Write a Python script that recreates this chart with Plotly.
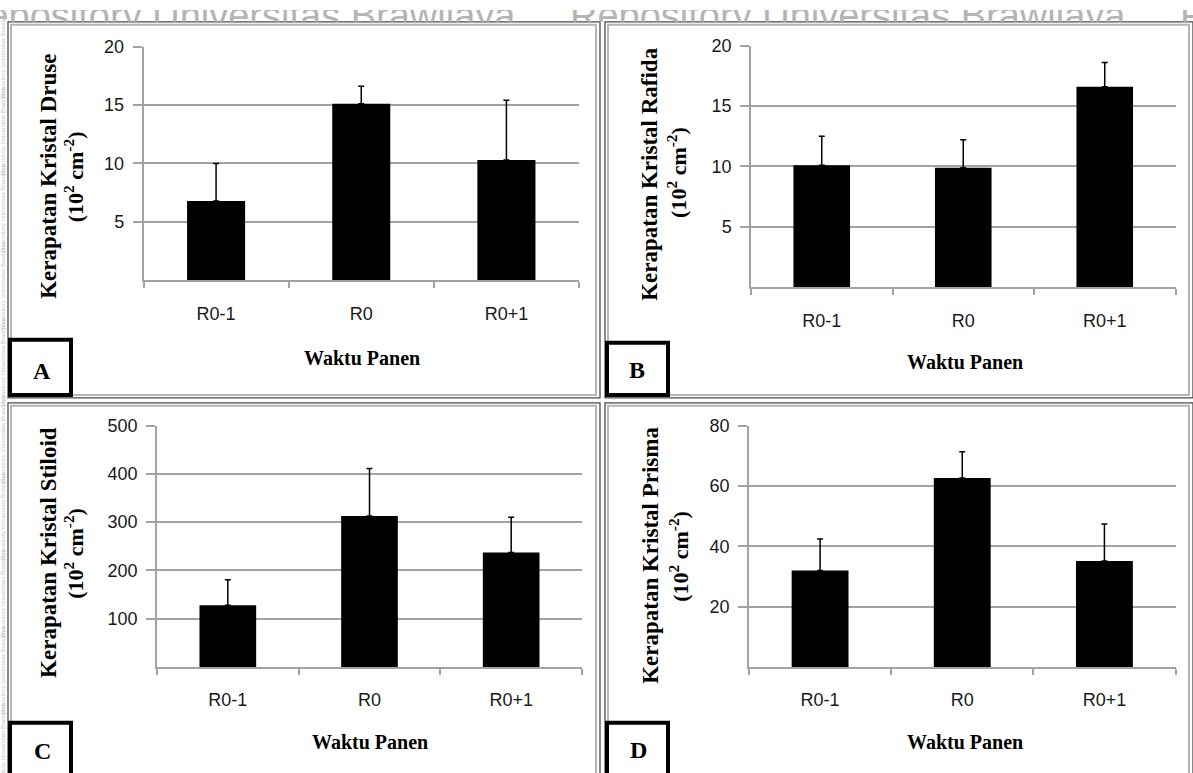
import plotly.graph_objects as go

W, H = 1193, 773

# ---------------- data ----------------
categories = ["R0-1", "R0", "R0+1"]
druse = [6.8, 15.1, 10.3]
druse_err = [3.2, 1.5, 5.1]
rafida = [10.1, 9.9, 16.6]
rafida_err = [2.4, 2.3, 2.0]
stiloid = [128, 313, 237]
stiloid_err = [53, 98, 73]
prisma = [32.0, 62.6, 35.1]
prisma_err = [10.4, 8.7, 12.3]

y_titles = ["Kerapatan Kristal Druse", "Kerapatan Kristal Rafida",
            "Kerapatan Kristal Stiloid", "Kerapatan Kristal Prisma"]
unit_title = "(10<sup>2</sup> cm<sup>-2</sup>)"
x_title = "Waktu Panen"
panel_labels = ["A", "B", "C", "D"]
y_tickvals = [[5, 10, 15, 20], [5, 10, 15, 20],
              [100, 200, 300, 400, 500], [20, 40, 60, 80]]
y_ranges = [[0, 20], [0, 20], [0, 500], [0, 80]]
watermark = "Repository Universitas Brawijaya"

values = [druse, rafida, stiloid, prisma]
errors = [druse_err, rafida_err, stiloid_err, prisma_err]

# ---------------- layout geometry (pixels) ----------------
plot_px = [  # x0, x1, ytop, ybottom
    (143.5, 579, 37, 274),
    (751, 1175.5, 36, 281),
    (157, 582, 421, 665.7),
    (749, 1175.5, 421, 665.7),
]
ytitle_pos = [((49, 169), (74, 169.5)), ((650, 166), (677, 164)),
              ((49, 550), (74, 551)), ((651, 553), (679, 554))]
xtitle_pos = [(362, 353), (965, 357), (370, 742), (965, 742)]
frames = [(8, 12, 600, 393), (605, 12, 1193, 393),
          (8, 398, 600, 780), (605, 398, 1193, 780)]
label_boxes = [(8, 332, 73, 392), (605, 335, 670, 392),
               (8, 720, 73, 780), (605, 720, 670, 780)]
label_pos = [(42, 366), (637, 365), (42, 751), (638, 750)]


def fx(px):
    return px / W


def fy(py):
    return 1 - py / H


GRID = "#a3a3a3"
TICKFONT = dict(family="Liberation Sans, Arial, sans-serif", size=18, color="#1a1a1a")
SERIF = "Liberation Serif, Times New Roman, serif"

fig = go.Figure()
layout = dict(
    width=W, height=H,
    margin=dict(l=0, r=0, t=0, b=0),
    paper_bgcolor="white", plot_bgcolor="white",
    showlegend=False,
    annotations=[], shapes=[],
)

for i in range(4):
    n = "" if i == 0 else str(i + 1)
    x0, x1, yt, yb = plot_px[i]
    fig.add_trace(go.Bar(
        x=categories, y=values[i], width=0.4,
        marker=dict(color="black", line=dict(width=0)),
        error_y=dict(type="data", array=errors[i], symmetric=False,
                     arrayminus=[0] * len(errors[i]),
                     color="black", thickness=1.5, width=3),
        xaxis="x" + n, yaxis="y" + n, hoverinfo="skip",
    ))
    layout["xaxis" + n] = dict(
        domain=[fx(x0), fx(x1)], anchor="y" + n, type="category",
        showline=True, linecolor=GRID, linewidth=1.5,
        ticks="outside", tickson="boundaries", ticklen=6, tickcolor=GRID,
        tickwidth=1.5, showgrid=False, tickfont=TICKFONT,
        ticklabelstandoff=16, fixedrange=True,
    )
    layout["yaxis" + n] = dict(
        domain=[fy(yb), fy(yt)], anchor="x" + n, range=y_ranges[i],
        tickvals=y_tickvals[i],
        showline=True, linecolor=GRID, linewidth=1.5,
        ticks="outside", ticklen=9, tickcolor=GRID, tickwidth=1.5,
        showgrid=True, gridcolor=GRID, gridwidth=1.5, zeroline=False,
        tickfont=TICKFONT, ticklabelstandoff=5, fixedrange=True,
    )
    # y-axis titles (two lines)
    (l1x, l1y), (l2x, l2y) = ytitle_pos[i]
    layout["annotations"].append(dict(
        text="<b>%s</b>" % y_titles[i], x=fx(l1x), y=fy(l1y),
        xref="paper", yref="paper", xanchor="center", yanchor="middle",
        textangle=-90, showarrow=False,
        font=dict(family=SERIF, size=23, color="black")))
    layout["annotations"].append(dict(
        text="<b>%s</b>" % unit_title, x=fx(l2x), y=fy(l2y),
        xref="paper", yref="paper", xanchor="center", yanchor="middle",
        textangle=-90, showarrow=False,
        font=dict(family=SERIF, size=22, color="black")))
    # x-axis title
    tx, ty = xtitle_pos[i]
    layout["annotations"].append(dict(
        text="<b>%s</b>" % x_title, x=fx(tx), y=fy(ty),
        xref="paper", yref="paper", xanchor="center", yanchor="middle",
        showarrow=False, font=dict(family=SERIF, size=20, color="black")))
    # panel frame (double line)
    fx0, fy0, fx1, fy1 = frames[i]
    layout["shapes"].append(dict(
        type="rect", xref="paper", yref="paper",
        x0=fx(fx0), x1=fx(fx1), y0=fy(fy1), y1=fy(fy0),
        line=dict(color="#4a4a4a", width=1.3), fillcolor="rgba(0,0,0,0)",
        layer="below"))
    layout["shapes"].append(dict(
        type="rect", xref="paper", yref="paper",
        x0=fx(fx0 + 3), x1=fx(fx1 - 4), y0=fy(fy1 - 3), y1=fy(fy0 + 3),
        line=dict(color="#b5b5b5", width=2), fillcolor="rgba(0,0,0,0)",
        layer="below"))

for i in range(4):
    bx0, by0, bx1, by1 = label_boxes[i]
    layout["shapes"].append(dict(
        type="rect", xref="paper", yref="paper",
        x0=fx(bx0 + 2), x1=fx(bx1 - 2), y0=fy(by1 - 2), y1=fy(by0 + 2),
        line=dict(color="black", width=4), fillcolor="white", layer="above"))
    lx, ly = label_pos[i]
    layout["annotations"].append(dict(
        text="<b>%s</b>" % panel_labels[i], x=fx(lx), y=fy(ly),
        xref="paper", yref="paper", xanchor="center", yanchor="middle",
        showarrow=False, font=dict(family=SERIF, size=24, color="black")))

# watermark across the top, clipped to the strip above the frames
wm_x = [-40, 570, 1180]
fig.add_trace(go.Scatter(
    x=wm_x, y=[9.5] * len(wm_x), mode="text", text=[watermark] * len(wm_x),
    textposition="middle right", cliponaxis=True,
    textfont=dict(family="Liberation Sans, Arial, sans-serif", size=38, color="#b4b4b4"),
    xaxis="x5", yaxis="y5", hoverinfo="skip",
))
layout["xaxis5"] = dict(domain=[0, 1], range=[0, W], visible=False, anchor="y5", fixedrange=True)
layout["yaxis5"] = dict(domain=[fy(12), 1], range=[12, 0], visible=False, anchor="x5", fixedrange=True)

# faint vertical watermark strip on the left edge
for yc in range(45, 780, 78):
    layout["annotations"].append(dict(
        text="Repository Universitas Brawijaya", x=fx(3.5), y=fy(yc),
        xref="paper", yref="paper", xanchor="center", yanchor="middle",
        textangle=-90, showarrow=False,
        font=dict(family="Liberation Sans, Arial, sans-serif", size=6, color="#c4c4c4")))

fig.update_layout(**layout)
fig.write_html("out.html", include_plotlyjs=True,
               config={"displayModeBar": False},
               post_script="document.body.style.margin='0';document.body.style.overflow='hidden';")
